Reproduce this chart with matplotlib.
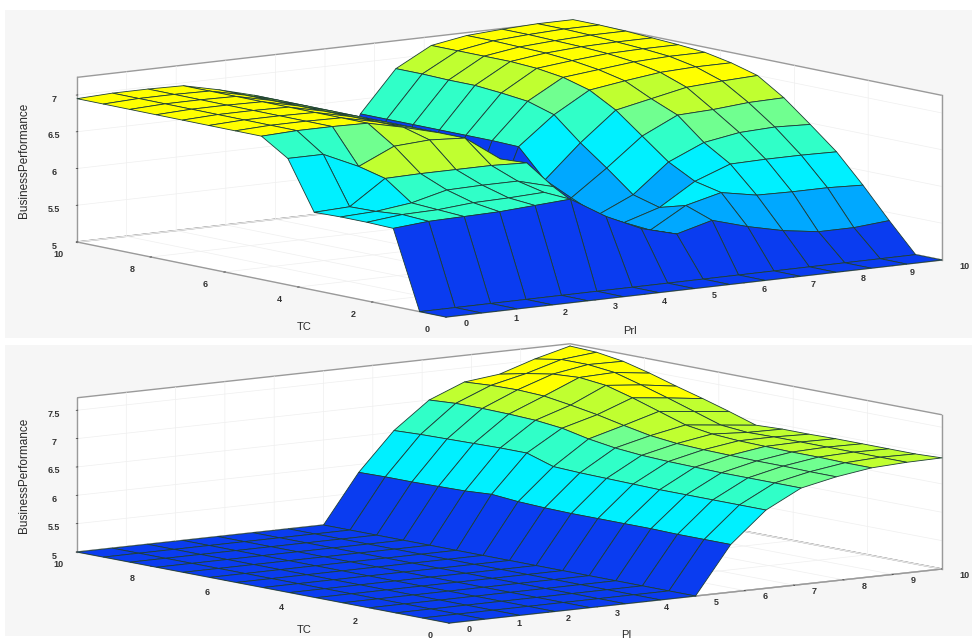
import numpy as np
import matplotlib
matplotlib.use("Agg")
import matplotlib.pyplot as plt
from matplotlib.colors import ListedColormap, BoundaryNorm
from matplotlib.patches import Rectangle
from mpl_toolkits.mplot3d import proj3d

plt.rcParams['font.family'] = ['Liberation Sans', 'DejaVu Sans']

grid_axis = [0, 0.714, 1.429, 2.143, 2.857, 3.571, 4.286, 5, 5.714, 6.429, 7.143, 7.857, 8.571, 9.286, 10]

# Top panel: one row per TC grid value, one column per Prl grid value
top_tc00 = [5.00]*15
top_tc01 = [5.00]*15
top_tc02 = [6.06,6.10,6.11,6.12,6.15,6.18,5.89,5.67,5.54,5.67,5.53,5.42,5.35,5.35,5.39]
top_tc03 = [6.07,6.12,6.13,6.17,6.18,6.20,5.95,5.60,5.52,5.80,5.92,5.83,5.82,5.82,5.80]
top_tc04 = [6.07,6.09,6.15,6.27,6.28,6.28,6.15,5.50,5.55,5.70,6.00,6.18,6.19,6.19,6.18]
top_tc05 = [6.06,6.08,6.41,6.42,6.42,6.42,6.40,5.35,5.58,5.80,6.19,6.40,6.48,6.50,6.48]
top_tc06 = [6.72,6.72,6.50,6.72,6.75,6.72,6.38,5.25,5.74,6.09,6.47,6.70,6.72,6.76,6.77]
top_tc07 = [6.95,6.97,6.97,6.96,6.85,6.72,6.35,5.10,5.91,6.36,6.75,6.85,6.95,6.98,7.00]
top_tc08 = [6.95,6.97,6.97,6.96,6.85,6.72,6.35,5.10,6.29,6.67,6.95,7.02,7.08,7.10,7.10]
top_tc09 = [6.95,6.97,6.97,6.96,6.85,6.72,6.35,5.10,6.30,6.78,7.05,7.10,7.15,7.17,7.17]
top_tc10 = [6.95,6.97,6.97,6.96,6.85,6.72,6.35,5.10,6.30,6.82,7.10,7.15,7.19,7.20,7.20]
top_tc11 = [6.95,6.97,6.97,6.96,6.85,6.72,6.35,5.10,6.30,6.85,7.12,7.18,7.21,7.22,7.22]
top_tc12 = [6.95,6.97,6.97,6.96,6.85,6.72,6.35,5.10,6.30,6.85,7.12,7.19,7.22,7.24,7.24]
top_tc13 = [6.95,6.97,6.97,6.96,6.85,6.72,6.35,5.10,6.30,6.86,7.12,7.20,7.23,7.25,7.25]
top_tc14 = [6.95,6.97,6.97,6.96,6.85,6.72,6.35,5.10,6.30,6.86,7.12,7.20,7.23,7.25,7.25]
top_rows = [top_tc00, top_tc01, top_tc02, top_tc03, top_tc04, top_tc05, top_tc06, top_tc07,
            top_tc08, top_tc09, top_tc10, top_tc11, top_tc12, top_tc13, top_tc14]

# Bottom panel: one list per PI grid value (above PI=5), running along TC
bot_low = [5.00]*15
bot_pi08 = [5.84,5.84,5.84,5.85,5.85,5.85,5.85,5.86,5.88,5.92,5.89,5.88,5.87,5.87,5.86]
bot_pi09 = [6.38,6.38,6.38,6.38,6.38,6.39,6.40,6.41,6.43,6.58,6.58,6.57,6.56,6.55,6.53]
bot_pi10 = [6.70,6.70,6.70,6.70,6.71,6.72,6.74,6.78,6.85,6.95,7.00,7.02,7.03,7.03,7.00]
bot_pi11 = [6.83,6.83,6.84,6.84,6.85,6.86,6.88,6.93,7.02,7.12,7.20,7.27,7.29,7.28,7.25]
bot_pi12 = [6.92,6.92,6.93,6.93,6.94,6.95,6.98,7.05,7.20,7.35,7.48,7.53,7.50,7.42,7.32]
bot_pi13 = [6.95,6.95,6.95,6.95,6.95,6.95,6.94,6.98,7.13,7.28,7.42,7.55,7.60,7.60,7.52]
bot_pi14 = [6.96,6.94,6.94,6.94,6.94,6.93,6.93,6.91,7.06,7.20,7.33,7.47,7.59,7.66,7.68]
bot_cols = [bot_low]*8 + [bot_pi08, bot_pi09, bot_pi10, bot_pi11, bot_pi12, bot_pi13, bot_pi14]

band_colors = ['#0a3cf0', '#00a8ff', '#00f0ff', '#30ffc8', '#70ff90', '#c0ff30', '#ffff00']
top_levels = [0, 5.3, 5.78, 6.1, 6.4, 6.7, 6.95, 9]
bot_levels = [0, 5.5, 5.5001, 6.2, 6.65, 6.85, 7.25, 9]

top_zticks = [5, 5.5, 6, 6.5, 7]
bot_zticks = [5, 5.5, 6, 6.5, 7, 7.5]
grid_ticks_x = [0,1,2,3,4,5,6,7,8,9,10]
grid_ticks_y = [0,2,4,6,8,10]

W, H = 972, 639
fig = plt.figure(figsize=(W/100, H/100), dpi=100, facecolor='white')
for (y0, y1) in [(10, 338), (345, 636)]:
    fig.add_artist(Rectangle((5/W, 1-y1/H), (W-5)/W, (y1-y0)/H, transform=fig.transFigure,
                             facecolor='#f6f6f6', edgecolor='none', zorder=-5))


def panel(Z, Zband, levels, ztop, zticks, xlabel, origin, ex, ey, ezunit, xlab_xy, ylab_xy, zlab_xy):
    ax = fig.add_axes([0, 0, 0.5, 0.5], projection='3d')
    ax.set_proj_type('ortho')
    ax.set_xlim(0, 10); ax.set_ylim(0, 10); ax.set_zlim(5, ztop)
    ax.apply_aspect()
    f = ax.viewLim.height/ax.viewLim.width
    p = f*(-ex[1])/ex[0]            # tan a * sin e
    q = f*(-ey[1])/(-ey[0])         # sin e / tan a
    sin_e = np.sqrt(p*q)
    tan_a = p/sin_e
    a = np.arctan(tan_a); e = np.arcsin(sin_e)
    Lx = ex[0]/np.cos(a); Ly = -ey[0]/np.sin(a)
    Lz = f*ezunit*(ztop-5)/np.cos(e)
    ax.view_init(elev=np.degrees(e), azim=-(90+np.degrees(a)))
    ax.set_box_aspect((Lx, Ly, Lz), zoom=0.62)

    X, Y = np.meshgrid(grid_axis, grid_axis)
    cmap = ListedColormap(band_colors)
    norm = BoundaryNorm(levels, cmap.N)
    ax.plot_surface(X, Y, Z, rstride=1, cstride=1, facecolors=cmap(norm(Zband)), shade=False,
                    edgecolor='#1c3d36', linewidth=0.6, antialiased=True)
    ax.plot([10, 10], [0, 0], [5, ztop], color='#9a9a9a', linewidth=1.0, zorder=0)

    ax.set_xticks(grid_ticks_x); ax.set_yticks(grid_ticks_y); ax.set_zticks(zticks)
    ax.set_zticklabels([('%g' % v) for v in zticks])
    ax.tick_params(labelsize=6.5, colors='#333333')
    ax.tick_params(axis='x', pad=17)
    ax.tick_params(axis='y', pad=12)
    ax.tick_params(axis='z', pad=6)
    for axis in (ax.xaxis, ax.yaxis, ax.zaxis):
        axis.pane.set_facecolor((1, 1, 1, 1)); axis.pane.set_alpha(1.0)
        axis.pane.set_edgecolor('#9a9a9a')
        axis.pane.set_linewidth(1.0)
        axis.line.set_color('#9a9a9a'); axis.line.set_linewidth(1.0)
        axis._axinfo['grid']['color'] = '#efefef'
        axis._axinfo['grid']['linewidth'] = 0.5
        axis._axinfo['tick']['inward_factor'] = 0.02
        axis._axinfo['tick']['outward_factor'] = 0.02
        axis._axinfo['tick']['linewidth'] = {True: 0.5, False: 0.5}
        for lab in axis.get_ticklabels():
            lab.set_fontweight('bold')
    for lab in ax.xaxis.get_ticklabels():
        lab.set_ha('left'); lab.set_va('bottom')
    ax.zaxis.set_ticks_position('upper')
    ax.patch.set_visible(False)

    # place the axes so that the box corners fall where they belong
    M = ax.get_proj()
    u0, v0, _ = proj3d.proj_transform(0, 0, 5, M)
    u1, v1, _ = proj3d.proj_transform(10, 0, 5, M)
    Wpx = 900.0
    Lpx, Bpx = 0.0, 0.0
    for _ in range(4):
        ax.set_position([Lpx/W, Bpx/H, Wpx/W, Wpx/H])
        ax.apply_aspect()
        a0, a1 = ax.transData.transform([(u0, v0), (u1, v1)])
        Wpx *= ex[0]/(a1[0]-a0[0])
        ax.set_position([Lpx/W, Bpx/H, Wpx/W, Wpx/H])
        ax.apply_aspect()
        a0 = ax.transData.transform((u0, v0))
        Lpx += origin[0]-a0[0]
        Bpx += (H-origin[1])-a0[1]
    ax.set_position([Lpx/W, Bpx/H, Wpx/W, Wpx/H])

    for (xy, s, fs, rot) in [(xlab_xy, xlabel, 8, 0), (ylab_xy, 'TC', 8, 0), (zlab_xy, 'BusinessPerformance', 8.5, 90)]:
        fig.text(xy[0]/W, 1-xy[1]/H, s, fontsize=fs, rotation=rot, ha='center', va='center', color='#2a2a2a')
    return ax


Z_top = np.array(top_rows)
Z_bot = np.array(bot_cols).T

# the facets of the steep left cliff and the low Prl shelf take their band from the row below
band_top = Z_top.copy()
band_top[6, :2] = 6.3
band_top[5, 1] = 6.0
band_top[5, 2:6] = 6.75
band_top[2, 6:8] = 5.6

panel(Z_top, band_top, top_levels, 7.24, top_zticks, 'Prl', (446, 317), (496, -57), (-369, -75), 73.5,
      (630, 331), (304, 327), (24, 160))
panel(Z_bot, Z_bot, bot_levels, 7.72, bot_zticks, 'PI', (449, 623), (493, -54), (-372, -71), 56.7,
      (626, 635), (304, 630), (24, 475))

fig.savefig('out.png', dpi=100)
